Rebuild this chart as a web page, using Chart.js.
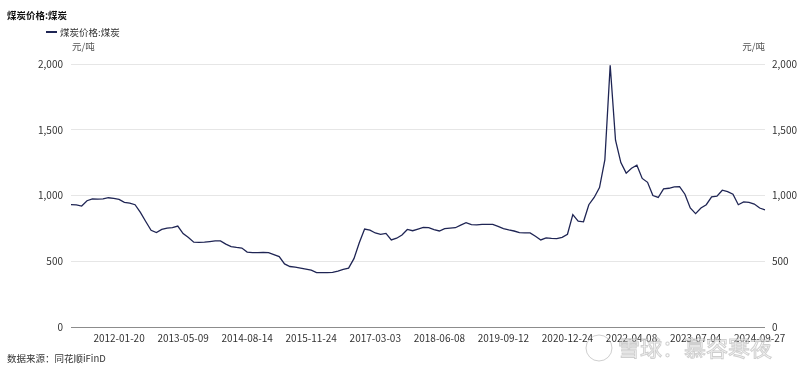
<!DOCTYPE html>
<html>
<head>
<meta charset="utf-8">
<script src="https://cdn.jsdelivr.net/npm/chart.js@4"></script>
<style>
  body { margin: 0; background: #fff; }
  #wrap { position: relative; width: 800px; height: 374px; }
</style>
</head>
<body>
<div id="wrap"><canvas id="coalChart" width="800" height="374"></canvas></div>
<script>
// weekly-ish samples
const dates = [
  '2011-02-18','2011-03-29','2011-05-06','2011-06-14','2011-07-22','2011-08-30','2011-10-11','2011-11-18','2011-12-27','2012-01-20',
  '2012-02-29','2012-04-06','2012-05-15','2012-06-22','2012-07-31','2012-09-07','2012-10-19','2012-11-27','2013-01-04','2013-02-19','2013-03-29','2013-05-09',
  '2013-06-18','2013-07-26','2013-09-03','2013-10-16','2013-11-22','2013-12-31','2014-02-14','2014-03-21','2014-04-30','2014-06-06','2014-07-11','2014-08-14',
  '2014-09-19','2014-10-31','2014-12-05','2015-01-16','2015-02-27','2015-04-03','2015-05-15','2015-06-19','2015-07-31','2015-09-04','2015-10-16','2015-11-24',
  '2016-01-01','2016-02-05','2016-03-18','2016-04-22','2016-06-03','2016-07-08','2016-08-19','2016-09-23','2016-11-04','2016-12-09','2017-01-20','2017-03-03',
  '2017-04-14','2017-05-19','2017-06-30','2017-08-04','2017-09-15','2017-10-27','2017-12-01','2018-01-12','2018-02-23','2018-03-30','2018-05-04','2018-06-08',
  '2018-07-13','2018-08-24','2018-09-28','2018-11-09','2018-12-14','2019-01-25','2019-03-08','2019-04-12','2019-05-24','2019-06-28','2019-08-09','2019-09-12',
  '2019-10-18','2019-11-22','2020-01-03','2020-02-14','2020-03-20','2020-04-30','2020-06-05','2020-07-17','2020-08-21','2020-09-30','2020-11-13','2020-12-24',
  '2021-01-29','2021-03-12','2021-04-16','2021-05-28','2021-07-02','2021-08-13','2021-09-17','2021-10-22','2021-12-03','2022-01-14','2022-02-25','2022-04-08',
  '2022-05-13','2022-06-24','2022-07-29','2022-09-09','2022-10-21','2022-11-25','2023-01-06','2023-02-17','2023-03-24','2023-04-28','2023-06-02','2023-07-04',
  '2023-08-11','2023-09-15','2023-10-27','2023-12-01','2024-01-12','2024-02-23','2024-03-29','2024-05-10','2024-06-14','2024-07-19','2024-08-23','2024-09-27',
  '2024-11-01'
];

const coalPrice = [
  930, 928, 920, 960, 975, 972, 975, 983, 978, 970,
  948, 942, 930, 872, 802, 735, 718, 742, 752, 755, 768, 710,
  680, 645, 643, 645, 650, 655, 655, 630, 612, 605, 600, 570,
  566, 566, 567, 565, 550, 535, 480, 460, 455, 448, 440, 432,
  414, 414, 414, 415, 425, 438, 448, 520, 640, 745, 737, 715,
  705, 712, 662, 675, 700, 742, 732, 745, 757, 755, 740, 730,
  748, 752, 755, 775, 793, 778, 776, 780, 780, 780, 765, 748,
  738, 730, 718, 716, 716, 690, 662, 678, 674, 672, 682, 705,
  855, 805, 800, 930, 985, 1060, 1270, 1990, 1420, 1250, 1170, 1207,
  1230, 1130, 1100, 1000, 985, 1050, 1055, 1065, 1068, 1010, 905, 862,
  905, 930, 990, 995, 1040, 1030, 1010, 930, 952, 948, 935, 905,
  890
];

const xTickLabels = ['2012-01-20','2013-05-09','2014-08-14','2015-11-24','2017-03-03','2018-06-08',
  '2019-09-12','2020-12-24','2022-04-08','2023-07-04','2024-09-27'];

const seriesName = '煤炭价格:煤炭';
const chartTitle = '煤炭价格:煤炭';
const unitLabel = '元/吨';
const sourceNote = '数据来源：同花顺iFinD';
const watermark = '雪球：慕容寒夜';

const lineColor = '#1f2554';
const cjk = '"Noto Sans CJK SC", "Noto Sans", sans-serif';

// title, legend, units, footer and watermark
const textPlugin = {
  id: 'texts',
  afterDraw(chart) {
    const ctx = chart.ctx;
    const area = chart.chartArea;
    ctx.save();
    ctx.textBaseline = 'middle';

    ctx.fillStyle = '#111';
    ctx.font = 'bold 9.5px ' + cjk;
    ctx.textAlign = 'left';
    ctx.fillText(chartTitle, 7, 15);

    ctx.strokeStyle = lineColor;
    ctx.lineWidth = 2;
    ctx.beginPath();
    ctx.moveTo(46, 32);
    ctx.lineTo(57, 32);
    ctx.stroke();
    ctx.fillStyle = '#333';
    ctx.font = '9.5px ' + cjk;
    ctx.fillText(seriesName, 60, 32);

    ctx.fillStyle = '#555';
    ctx.fillText(unitLabel, area.left + 1, 46);
    ctx.textAlign = 'right';
    ctx.fillText(unitLabel, area.right, 46);

    ctx.textAlign = 'left';
    ctx.fillStyle = '#333';
    ctx.fillText(sourceNote, 7, 358);

    // faint watermark
    ctx.lineWidth = 1;
    ctx.strokeStyle = 'rgba(160,160,160,0.5)';
    ctx.beginPath();
    ctx.arc(599, 348, 13, 0, Math.PI * 2);
    ctx.stroke();
    ctx.font = '22px ' + cjk;
    ctx.fillStyle = 'rgba(255,255,255,0.6)';
    ctx.fillText(watermark, 618, 348);
    ctx.strokeText(watermark, 618, 348);
    ctx.restore();
  }
};

new Chart(document.getElementById('coalChart'), {
  type: 'line',
  data: {
    labels: dates,
    datasets: [{
      label: seriesName,
      data: coalPrice,
      borderColor: lineColor,
      borderWidth: 1.3,
      pointRadius: 0,
      tension: 0,
      fill: false,
      yAxisID: 'y'
    }]
  },
  options: {
    responsive: false,
    animation: false,
    layout: { padding: { top: 64 } },
    plugins: {
      legend: { display: false },
      tooltip: { enabled: false }
    },
    scales: {
      x: {
        grid: { display: false, drawTicks: false },
        border: { display: false },
        ticks: {
          autoSkip: false,
          maxRotation: 0,
          padding: 5,
          color: '#333',
          font: { size: 10, family: cjk },
          callback(value) {
            const lab = this.getLabelForValue(value);
            return xTickLabels.includes(lab) ? lab : '';
          }
        },
        afterFit(scale) { scale.height = 47; }
      },
      y: {
        position: 'left',
        min: 0,
        max: 2000,
        grid: {
          drawTicks: false,
          color: c => c.tick.value === 0 ? '#8c8c8c' : '#e6e6e6'
        },
        border: { display: false },
        ticks: {
          stepSize: 500,
          padding: 8,
          color: '#333',
          font: { size: 10, family: cjk },
          callback: v => v.toLocaleString('en-US')
        },
        afterFit(scale) { scale.width = 71; }
      },
      y1: {
        position: 'right',
        min: 0,
        max: 2000,
        grid: { display: false, drawTicks: false },
        border: { display: false },
        ticks: {
          stepSize: 500,
          padding: 7,
          color: '#333',
          font: { size: 10, family: cjk },
          callback: v => v.toLocaleString('en-US')
        },
        afterFit(scale) { scale.width = 35; }
      }
    }
  },
  plugins: [textPlugin]
});
</script>
</body>
</html>
